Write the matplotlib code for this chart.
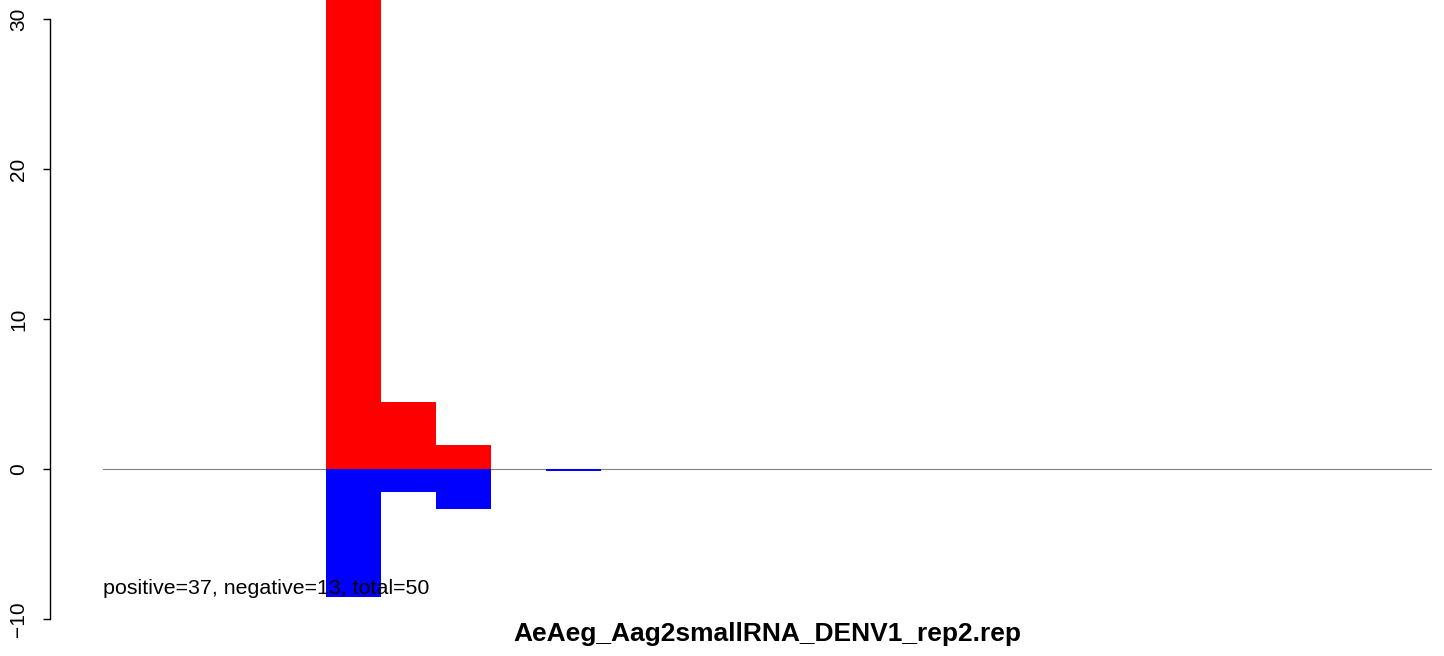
import numpy as np
import matplotlib.pyplot as plt

plt.rcParams['font.family'] = ['Liberation Sans', 'DejaVu Sans']

lengths = [21, 22, 23, 24, 25]
positive = [31.5, 4.47, 1.6, 0.0, 0.0]
negative = [-8.53, -1.53, -2.67, 0.0, -0.13]
title = "AeAeg_Aag2smallRNA_DENV1_rep2.rep"
summary = "positive=37, negative=13, total=50"

fig = plt.figure(figsize=(14.44, 6.56), dpi=100)
ax = fig.add_axes([103/1444, 13/656, 1329/1444, 648/656])

ax.bar(lengths, positive, width=1.0, color='#ff0000', linewidth=0, zorder=2)
ax.bar(lengths, negative, width=1.0, color='#0000ff', linewidth=0, zorder=2)
ax.axhline(0, color='#808080', lw=0.8, zorder=1)

ax.set_xlim(16.45, 40.6)
ax.set_ylim(-11.6, 31.6)

for s in ['top', 'right', 'bottom']:
    ax.spines[s].set_visible(False)
ax.spines['left'].set_position(('outward', 38))
ax.spines['left'].set_bounds(-10, 30)
ax.spines['left'].set_linewidth(1.0)
ax.set_xticks([])
ax.set_yticks([-10, 0, 10, 20, 30])
ax.tick_params(axis='y', length=5, width=1.0, labelsize=15, pad=11)
for lab in ax.get_yticklabels():
    lab.set_rotation(90)
    lab.set_va('center')

ax.text(16.45, -8.0, summary, fontsize=15.4, ha='left', va='center', zorder=3)
fig.text(767.5/1444, (656-634)/656, title, fontsize=19, fontweight='bold',
         ha='center', va='center')

fig.savefig('out.png', dpi=100)
